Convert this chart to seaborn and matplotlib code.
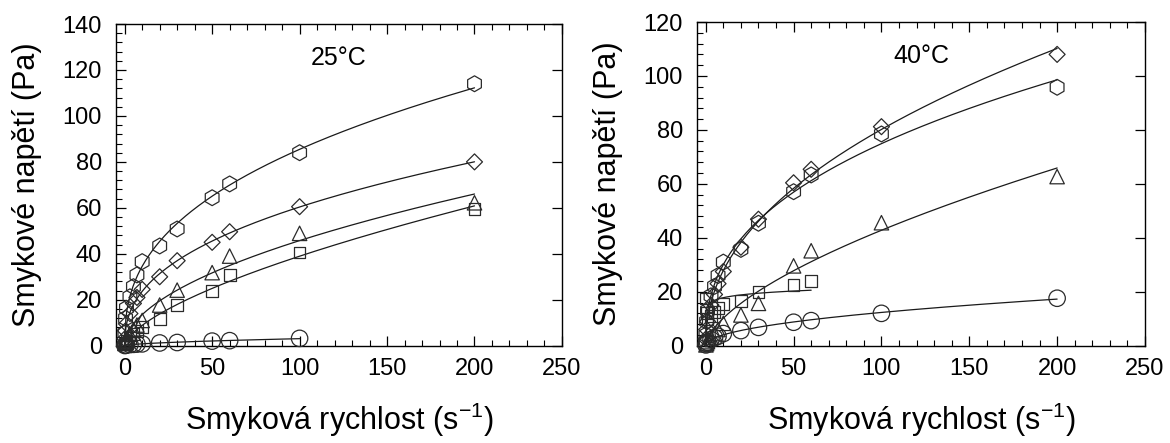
import numpy as np
import pandas as pd
import matplotlib
matplotlib.use("Agg")
import matplotlib.pyplot as plt
import seaborn as sns
from matplotlib.ticker import MultipleLocator

# ---------------- data ----------------
shear_rate = [0.1, 0.5, 1, 3, 5, 7, 10, 20, 30, 50, 60, 100, 200]

# 25 °C
t25_hexagon = [5.5, 11.9, 16.3, 21.3, 25.7, 30.8, 36.6, 43.4, 50.8, 64.4, 70.4, 84.0, 114.0]
t25_diamond = [3.0, 6.5, 9.5, 14.0, 18.4, 21.0, 24.5, 30.0, 37.0, 45.0, 49.6, 60.5, 80.0]
t25_triangle = [1.0, 2.0, 3.0, 5.0, 7.0, 9.0, 11.0, 17.7, 24.2, 31.8, 39.0, 48.9, 62.2]
t25_square = [0.5, 1.0, 2.0, 3.5, 5.0, 6.5, 8.0, 11.5, 17.7, 23.8, 30.8, 40.6, 59.4]
t25_circle = [0.1, 0.2, 0.3, 0.5, 0.6, 0.7, 0.8, 1.2, 1.4, 2.0, 2.2, 3.2]  # up to 100 s-1

# 40 °C
t40_diamond = [2.5, 6.0, 9.0, 15.0, 19.0, 23.0, 27.5, 36.5, 46.9, 60.4, 65.4, 81.2, 108.0]
t40_hexagon = [4.0, 9.0, 13.0, 18.5, 22.0, 26.0, 31.0, 35.7, 45.4, 57.1, 63.3, 78.5, 95.8]
t40_triangle = [0.3, 0.8, 1.5, 3.0, 4.5, 6.0, 8.3, 11.4, 15.7, 29.6, 35.2, 45.6, 62.7]
t40_square = [17.5, 12.0, 10.0, 11.0, 12.5, 14.0, 15.5, 16.7, 20.0, 22.5, 24.1]  # up to 60 s-1
t40_circle = [0.3, 0.8, 1.3, 2.3, 3.0, 3.5, 4.5, 5.6, 6.8, 8.7, 9.3, 12.0, 17.6]

panel_titles = ["25°C", "40°C"]
x_label = "Smyková rychlost (s$^{-1}$)"
y_label = "Smykové napětí (Pa)"
x_ticks = [0, 50, 100, 150, 200, 250]
y_ticks_25 = [0, 20, 40, 60, 80, 100, 120, 140]
y_ticks_40 = [0, 20, 40, 60, 80, 100, 120]

# ---------------- style ----------------
sns.set_style("ticks")
plt.rcParams["font.family"] = ["Liberation Sans", "DejaVu Sans"]
plt.rcParams["mathtext.default"] = "regular"
plt.rcParams["text.color"] = "black"
plt.rcParams["axes.labelcolor"] = "black"

EDGE = "#2a2a2a"
marker_style = {
    "h": 130,
    "D": 66,
    "^": 108,
    "s": 72,
    "o": 140,
}


def series_frame(values, marker):
    xs = shear_rate[: len(values)]
    return pd.DataFrame({"x": xs, "y": values, "m": marker})


def fit_curve(values):
    """Power-law (Ostwald) fit, least squares weighted towards the stress values."""
    xs = np.array(shear_rate[: len(values)], dtype=float)
    ys = np.array(values, dtype=float)
    n, lnk = np.polyfit(np.log(xs), np.log(ys), 1, w=ys)
    grid = np.linspace(0.0, xs.max(), 300)
    return pd.DataFrame({"x": grid, "y": np.exp(lnk) * np.power(grid, n)})


fig = plt.figure(figsize=(11.70, 4.43), dpi=100)
ax1 = fig.add_axes([0.0991, 0.2196, 0.3812, 0.7262])
ax2 = fig.add_axes([0.5957, 0.2196, 0.3829, 0.7307])

panels = [
    (ax1, [(t25_hexagon, "h"), (t25_diamond, "D"), (t25_triangle, "^"),
           (t25_square, "s"), (t25_circle, "o")], 140, y_ticks_25, 4),
    (ax2, [(t40_diamond, "D"), (t40_hexagon, "h"), (t40_triangle, "^"),
           (t40_square, "s"), (t40_circle, "o")], 120, y_ticks_40, 4),
]

for (ax, series, ymax, yticks, yminor), title in zip(panels, panel_titles):
    for values, mk in series:
        curve = fit_curve(values)
        sns.lineplot(data=curve, x="x", y="y", ax=ax, color="#1a1a1a",
                     linewidth=0.9, estimator=None, sort=False, legend=False)
        pts = series_frame(values, mk)
        sns.scatterplot(data=pts, x="x", y="y", ax=ax, marker=mk,
                        s=marker_style[mk], facecolors="none",
                        edgecolor=EDGE, linewidth=0.9, legend=False,
                        clip_on=False, zorder=3)
    ax.set_xlim(-5, 250)
    ax.set_ylim(0, ymax)
    ax.set_xticks(x_ticks)
    ax.set_yticks(yticks)
    ax.xaxis.set_minor_locator(MultipleLocator(10))
    ax.yaxis.set_minor_locator(MultipleLocator(yminor))
    ax.tick_params(which="both", direction="in", top=True, right=True,
                   labelsize=17, colors="black")
    ax.tick_params(which="major", length=7, width=0.9, pad=9)
    ax.tick_params(which="minor", length=4, width=0.8, right=False)
    ax.tick_params(axis="y", which="major", pad=10)
    for sp in ax.spines.values():
        sp.set_linewidth(1.0)
        sp.set_color("black")
    ax.set_xlabel(x_label, fontsize=22, labelpad=15, color="black")
    ax.set_ylabel(y_label, fontsize=22, labelpad=15, color="black")
    ax.text(0.5, 0.895, title, transform=ax.transAxes, ha="center",
            va="center", fontsize=18, color="black")

fig.savefig("out.png", dpi=100)
